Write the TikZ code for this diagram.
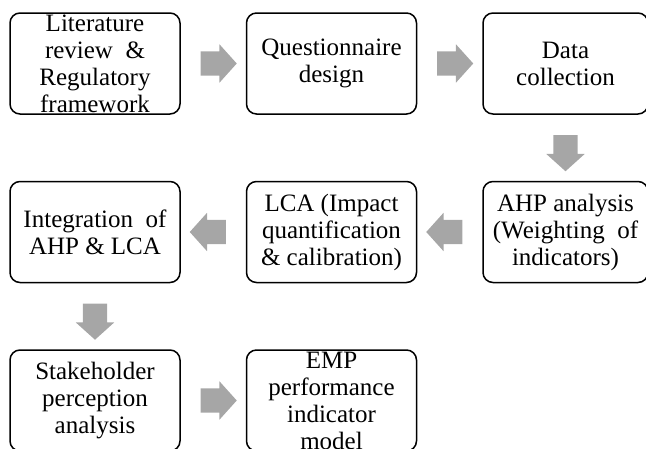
\documentclass[tikz,border=0pt]{standalone}
\usepackage{fontspec}
\setmainfont{Liberation Serif}
\usepackage{tikz}
\usetikzlibrary{positioning,shapes.arrows}

\begin{document}
\begin{tikzpicture}[x=1pt,y=1pt,node distance=66pt and 65pt,
  stepbox/.style={draw,line width=1.5pt,rounded corners=10pt,
    minimum width=170pt,minimum height=101pt,inner sep=0pt},
  steptext/.style={align=center,inner sep=0pt,
    font=\fontsize{25}{27}\selectfont},
  flowarrow/.style={single arrow,fill=gray!70,draw=none,
    inner xsep=0pt,inner ysep=12pt,minimum height=36pt,
    single arrow head extend=7pt,single arrow tip angle=96}]
  \useasboundingbox (0,0) rectangle (646,-448);
  % first row
  \node[stepbox,label={[steptext]center:Literature\\review~~\&\\Regulatory\\framework}] (lit) at (95,-63.5) {};
  \node[stepbox,right=of lit,label={[steptext]center:Questionnaire\\design}] (quest) {};
  \node[stepbox,right=of quest,minimum width=165pt,label={[steptext]center:Data\\collection}] (data) {};
  % second row
  \node[stepbox,below=of data,minimum width=165pt,label={[steptext]center:AHP analysis\\(Weighting~~of\\indicators)}] (ahp) {};
  \node[stepbox,left=of ahp,label={[steptext]center:LCA (Impact\\quantification\\\& calibration)}] (lca) {};
  \node[stepbox,left=of lca,label={[steptext]center:Integration~~of\\AHP \& LCA}] (integ) {};
  % third row
  \node[stepbox,below=of integ,label={[steptext]center:Stakeholder\\perception\\analysis}] (stake) {};
  \node[stepbox,right=of stake,label={[steptext]center:EMP\\performance\\indicator\\model}] (emp) {};
  % block arrows
  \path (lit) -- node[flowarrow] (a1) {} (quest);
  \path (quest) -- node[flowarrow] (a2) {} (data);
  \path (data) -- node[flowarrow,rotate=-90] (a3) {} (ahp);
  \path (ahp) -- node[flowarrow,rotate=180] (a4) {} (lca);
  \path (lca) -- node[flowarrow,rotate=180] (a5) {} (integ);
  \path (integ) -- node[flowarrow,rotate=-90] (a6) {} (stake);
  \path (stake) -- node[flowarrow] (a7) {} (emp);
\end{tikzpicture}
\end{document}
